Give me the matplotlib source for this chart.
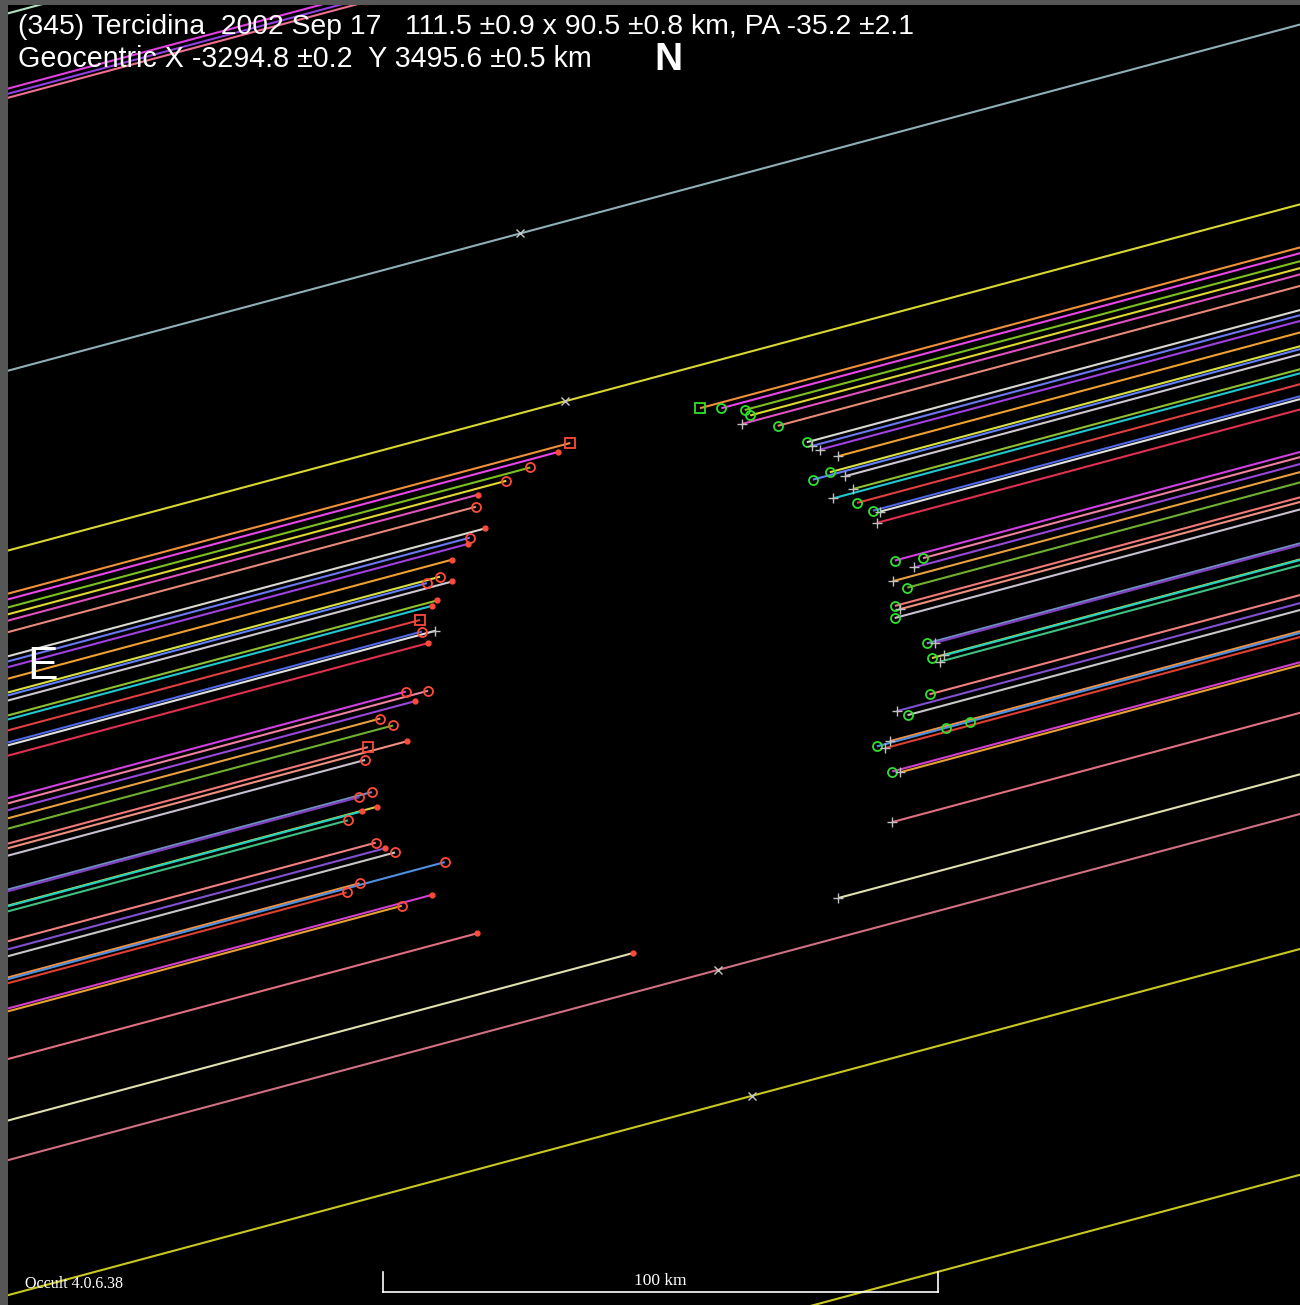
import numpy as np
import matplotlib
matplotlib.use("Agg")
import matplotlib.pyplot as plt

# ---- event data: (345) Tercidina, 2002 Sep 17 ----
# chord offset from the fitted centre, across the shadow path (km)
chord_offset = [45.2, 44.2, 42.8, 41.6, 40.5, 38.5, 34.3, 33.4, 32.4, 30.4,
                28.0, 27.5, 26.6, 24.0, 23.3, 21.4, 19.3, 18.8, 17.0, 9.6,
                8.7, 7.5, 6.1, 4.3, 1.7, 0.9, -0.4, -6.3, -6.6, -9.1,
                -9.2, -10.1, -15.3, -17.9, -16.7, -21.6, -21.9, -22.6, -27.0, -27.5,
                -35.8, -46.5]
# disappearance / reappearance along the path (km)
disappear = [-1.1, -3.6, -9.2, -14.0, -19.6, -20.5, -19.9, -23.0, -23.6, -27.1,
             -30.0, -32.6, -28.1, -31.6, -32.7, -35.5, -35.7, -33.4, -35.2, -41.3,
             -37.4, -40.2, -47.0, -45.1, -50.5, -43.4, -51.6, -51.9, -54.3, -51.7,
             -54.6, -57.4, -53.6, -50.7, -52.3, -58.3, -42.5, -61.0, -46.2, -52.0,
             -40.2, -13.9]
reappear = [23.1, 26.8, 30.8, 31.5, 29.7, 35.8, 40.1, 40.8, 42.0, 44.9,
            42.7, 39.4, 45.2, 46.0, 42.1, 46.0, 48.4, 49.6, 48.6, 49.9,
            54.9, 53.0, 48.6, 50.8, 47.8, 48.5, 47.2, 51.6, 53.0, 51.8,
            54.1, 53.0, 49.7, 44.9, 43.2, 40.6, 38.1, 39.4, 39.6, 40.9,
            37.2, 24.3]
d_symbol = ['s', '.', 'o', 'o', '.', 'o', '.', 'o', '.', '.',
            'o', 'o', '.', '.', '.', 's', 'o', '+', '.', 'o',
            'o', '.', 'o', 'o', 's', '.', 'o', 'o', 'o', '.',
            '.', 'o', 'o', 'o', '.', 'o', 'o', 'o', '.', 'o',
            '.', '.']
r_symbol = ['s', 'o', 'o', 'o', '+', 'o', 'o', '+', '+', '+',
            'o', 'o', '+', '+', '+', 'o', 'o', '+', '+', 'o',
            'o', '+', '+', 'o', 'o', '+', 'o', 'o', '+', 'o',
            '+', '+', 'o', 'o', '+', '+', 'o', '+', 'o', '+',
            '+', '+']

# chords that saw no occultation (offset km) and their mid-event mark (km along path)
miss_offset = [146.2, 133.1, 132.2, 131.5, 84.0, 52.7, -53.4, -76.9, -116.2]
miss_mark = [np.nan, np.nan, np.nan, np.nan, 0.0, 0.0, 0.0, 0.0, np.nan]

# secondary timing marks on an observed chord: (chord index, km along path)
extra_mark_chord = [36, 36]
extra_mark_along = [51.1, 55.4]

title_1 = "(345) Tercidina  2002 Sep 17   111.5 \u00b10.9 x 90.5 \u00b10.8 km, PA -35.2 \u00b12.1"
title_2 = "Geocentric X -3294.8 \u00b10.2  Y 3495.6 \u00b10.5 km"
version = "Occult 4.0.6.38"
scale_km = 100

# ---- styles ----
chord_color = ['#f0903a', '#e845e8', '#7cc020', '#e0d830', '#e050c0', '#e88878',
               '#d8d8d0', '#6a78f0', '#a040e0', '#f0a030', '#d8e040', '#6080ff',
               '#d0c8d0', '#90c030', '#20c8d0', '#e04040', '#5068e8', '#e0e0e0',
               '#e03050', '#d040e0', '#f080a0', '#9848d8', '#e8a040', '#70b030',
               '#f07878', '#f09080', '#c8c0d0', '#7090c0', '#8040c0', '#d0d040',
               '#20d0c0', '#40c080', '#f08080', '#c8c8c8', '#8050d0', '#f09040',
               '#5090e0', '#e04030', '#d040d0', '#e8a030', '#e07080', '#e0e0b0']
miss_color = ['#b0e0c0', '#e040e0', '#9040e0', '#f07090', '#90b0b8',
              '#d8d830', '#d07080', '#c8c820', '#c8c820']
D_COLOR = '#ff4a3a'
R_COLOR = '#30e030'
PLUS_COLOR = '#c0c0c0'

theta = np.radians(15.0)           # direction of shadow motion on the sky plane
u = np.array([np.cos(theta), np.sin(theta)])
n = np.array([-np.sin(theta), np.cos(theta)])


def sky(offset, along):
    along = np.asarray(along, dtype=float)
    return offset * n[0] + along * u[0], offset * n[1] + along * u[1]


fig = plt.figure(figsize=(13.0, 13.05), dpi=100, facecolor='#565656')
ax = fig.add_axes([8 / 1300, 0, 1292 / 1300, 1300 / 1305])
ax.set_facecolor('black')
ax.set_xlim(-114.07, 118.72)
ax.set_ylim(-111.95, 122.29)
ax.set_xticks([])
ax.set_yticks([])
for s in ax.spines.values():
    s.set_visible(False)

LW = 1.5
FAR = 300.0


def draw_marker(x, y, sym, col):
    if sym == 'o':
        ax.plot(x, y, 'o', ms=6.5, mfc='none', mec=col, mew=1.3, zorder=5)
    elif sym == 's':
        ax.plot(x, y, 's', ms=6.5, mfc='none', mec=col, mew=1.3, zorder=5)
    elif sym == '+':
        ax.plot(x, y, '+', ms=6.5, mec=PLUS_COLOR, mew=1.0, zorder=5)
    else:
        ax.plot(x, y, 'o', ms=3.5, mfc=col, mec=col, zorder=5)


# non-detections: full-length lines
for off, mk, col in zip(miss_offset, miss_mark, miss_color):
    x, y = sky(off, [-FAR, FAR])
    ax.plot(x, y, color=col, lw=LW, solid_capstyle='butt', zorder=2)
    if not np.isnan(mk):
        mx, my = sky(off, mk)
        ax.plot(mx, my, 'x', ms=6, mec='#c8c8c8', mew=1.0, zorder=5)

# positive chords: star visible up to disappearance and after reappearance
for off, d, r, col, ds, rs in zip(chord_offset, disappear, reappear,
                                  chord_color, d_symbol, r_symbol):
    x, y = sky(off, [-FAR, d])
    ax.plot(x, y, color=col, lw=LW, solid_capstyle='butt', zorder=3)
    x, y = sky(off, [r, FAR])
    ax.plot(x, y, color=col, lw=LW, solid_capstyle='butt', zorder=3)
    dx, dy = sky(off, d)
    draw_marker(dx, dy, ds, D_COLOR)
    rx, ry = sky(off, r)
    draw_marker(rx, ry, rs, R_COLOR)

for ci, a in zip(extra_mark_chord, extra_mark_along):
    ex, ey = sky(chord_offset[ci], a)
    draw_marker(ex, ey, 'o', R_COLOR)

# scale bar
bar_x0, bar_y, tick_h = -46.5, -109.6, 3.6
ax.plot([bar_x0, bar_x0 + scale_km], [bar_y, bar_y], color='white', lw=1.2, zorder=6)
ax.plot([bar_x0, bar_x0], [bar_y, bar_y + tick_h], color='white', lw=1.2, zorder=6)
ax.plot([bar_x0 + scale_km, bar_x0 + scale_km], [bar_y, bar_y + tick_h],
        color='white', lw=1.2, zorder=6)
ax.text(bar_x0 + scale_km / 2, bar_y + 0.6, f"{scale_km} km", color='white',
        ha='center', va='bottom', fontsize=12.5, family=['Liberation Serif', 'DejaVu Serif'],
        zorder=6)

# header and orientation labels
sans = ['Liberation Sans', 'DejaVu Sans']
fig.text(18 / 1300, 1 - 27 / 1305, title_1, color='white', fontsize=20.4,
         family=sans, ha='left', va='center')
fig.text(18 / 1300, 1 - 59 / 1305, title_2, color='white', fontsize=20.6,
         family=sans, ha='left', va='center')
fig.text(668 / 1300, 1 - 60 / 1305, "N", color='white', fontsize=28,
         family=sans, fontweight='bold', ha='center', va='center')
fig.text(43 / 1300, 1 - 667 / 1305, "E", color='white', fontsize=33,
         family=sans, ha='center', va='center')
fig.text(25 / 1300, 1 - 1284 / 1305, version, color='white', fontsize=11.5,
         family=['Liberation Serif', 'DejaVu Serif'], ha='left', va='center')

fig.savefig("out.png", dpi=100, facecolor=fig.get_facecolor())
